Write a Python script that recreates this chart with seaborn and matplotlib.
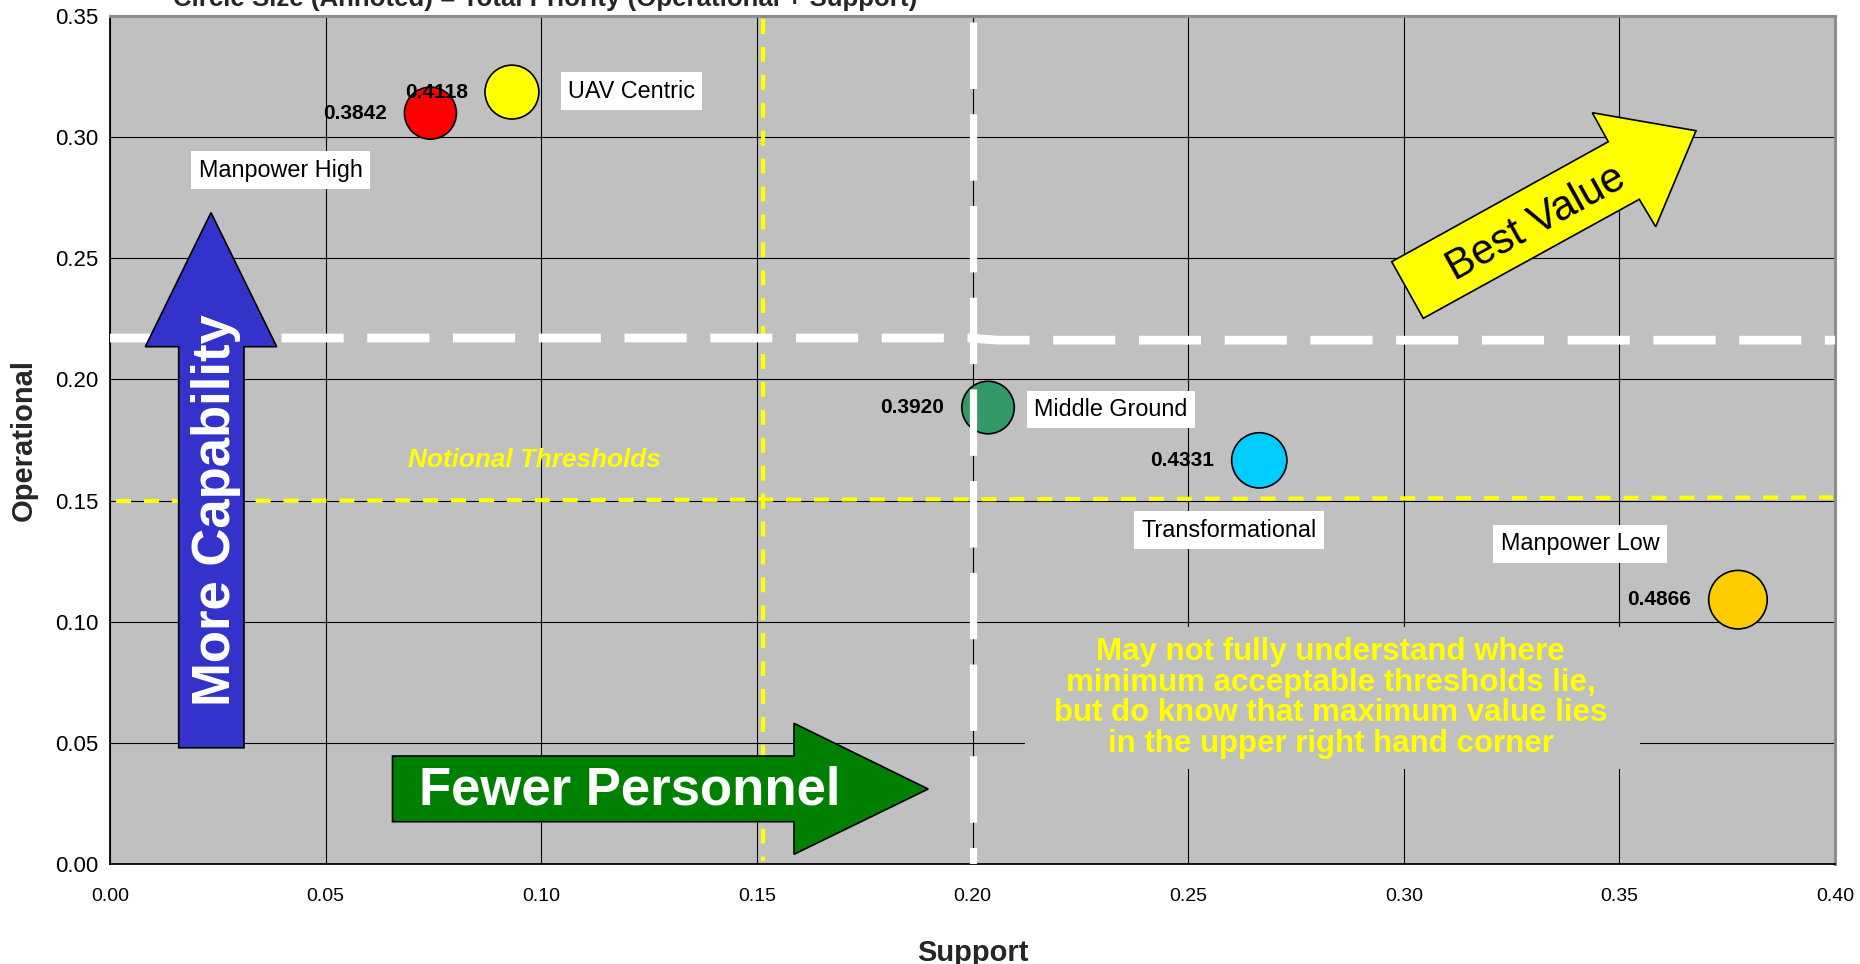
import matplotlib
matplotlib.use("Agg")
import matplotlib.pyplot as plt
import matplotlib.patches as mpatches
import numpy as np
import pandas as pd
import seaborn as sns

# ---- data -------------------------------------------------------------
alternatives = ["Manpower High", "UAV Centric", "Middle Ground",
                "Transformational", "Manpower Low"]
support = [0.0743, 0.0932, 0.2036, 0.2665, 0.3775]
operational = [0.3099, 0.3186, 0.1884, 0.1666, 0.1091]
total_priority = [0.3842, 0.4118, 0.3920, 0.4331, 0.4866]
bubble_colors = ["#FF0000", "#FFFF00", "#339966", "#00CCFF", "#FFCC00"]

x_ticks = [0.00, 0.05, 0.10, 0.15, 0.20, 0.25, 0.30, 0.35, 0.40]
y_ticks = [0.00, 0.05, 0.10, 0.15, 0.20, 0.25, 0.30, 0.35]

# where each alternative's name box sits (left edge of text, vertical centre)
name_anchor = [(0.0206, 0.2864), (0.1062, 0.3190), (0.2143, 0.1876),
               (0.2391, 0.1378), (0.3225, 0.1321)]

df = pd.DataFrame({"Alternative": alternatives, "Support": support,
                   "Operational": operational, "Total": total_priority})

# ---- style ------------------------------------------------------------
sns.set_style("white")
plt.rcParams["font.family"] = ["Liberation Sans", "DejaVu Sans"]

fig = plt.figure(figsize=(18.6, 9.64), dpi=100)
ax = fig.add_axes([110 / 1860, 1 - 864 / 964, 1725 / 1860, 848 / 964])
ax.set_facecolor("#C0C0C0")

ax.set_xlim(0, 0.40)
ax.set_ylim(0, 0.35)
ax.set_xticks(x_ticks)
ax.set_yticks(y_ticks)
ax.set_xticklabels([f"{v:.2f}" for v in x_ticks])
ax.set_yticklabels([f"{v:.2f}" for v in y_ticks])
ax.tick_params(axis="both", direction="out", length=3.6, width=1,
               color="black", labelcolor="black")
ax.tick_params(axis="x", pad=13.5, labelsize=14)
ax.tick_params(axis="y", pad=5.0, labelsize=16)
ax.grid(True, color="black", linewidth=0.8)
ax.set_axisbelow(True)

for side in ("left", "bottom"):
    ax.spines[side].set_color("black")
    ax.spines[side].set_linewidth(1.3)
for side in ("top", "right"):
    ax.spines[side].set_color("#8C8C8C")
    ax.spines[side].set_linewidth(2.2)

ax.set_xlabel("Support", fontsize=21, fontweight="bold", labelpad=25)
ax.set_ylabel("Operational", fontsize=21, fontweight="bold", labelpad=12)

# title sits mostly above the canvas edge
fig.text(545 / 1860, 1 - 6 / 964,
         "Circle Size (Annoted) = Total Priority (Operational + Support)",
         ha="center", va="baseline", fontsize=18.6, fontweight="bold")

# ---- bubbles ----------------------------------------------------------
sns.scatterplot(data=df, x="Support", y="Operational", hue="Alternative",
                palette=bubble_colors, size="Total", sizes=(0, 1825),
                size_norm=(0, 0.5), edgecolor="black", linewidth=1.2,
                legend=False, ax=ax, zorder=3)

for xs, ys, tot in zip(support, operational, total_priority):
    r_pt = np.sqrt(tot * 3650) / 2
    ax.annotate(f"{tot:.4f}", (xs, ys), xytext=(-(r_pt + 12.5), 0),
                textcoords="offset points", ha="right", va="center",
                fontsize=15, fontweight="bold", color="black", zorder=6)

for name, (lx, ly) in zip(alternatives, name_anchor):
    ax.text(lx, ly, name, ha="left", va="center", fontsize=16.8,
            color="black", zorder=6,
            bbox=dict(boxstyle="square,pad=0.32", facecolor="white",
                      edgecolor="none"))

# ---- notional threshold lines ----------------------------------------
ax.plot([0.1515, 0.1515], [0.3488, 0.0012], color="#FFFF00", lw=3.0,
        dashes=(3.6, 3.1), zorder=4, solid_capstyle="butt")
ax.plot([0.0014, 0.3995], [0.1498, 0.1513], color="#FFFF00", lw=3.0,
        dashes=(3.6, 3.1), zorder=4)
ax.text(0.0691, 0.1667, "Notional Thresholds", ha="left", va="center",
        fontsize=18.8, fontweight="bold", fontstyle="italic",
        color="#FFFF00", zorder=6)

ax.plot([0.2000, 0.2000], [0.3475, 0.0], color="white", lw=5.2,
        dashes=(9.2, 3.5), zorder=4)
ax.plot([0.0, 0.199, 0.206, 0.40], [0.2171, 0.2171, 0.2162, 0.2162],
        color="white", lw=6.3, dashes=(7.1, 2.7), zorder=4)

# ---- direction arrows -------------------------------------------------
blue_arrow = [(0.02342, 0.26885), (0.03866, 0.21351), (0.03107, 0.21351),
              (0.03107, 0.04796), (0.01593, 0.04796), (0.01593, 0.21351),
              (0.00819, 0.21351)]
ax.add_patch(mpatches.Polygon(blue_arrow, closed=True, facecolor="#3333CC",
                              edgecolor="black", lw=1.2, zorder=7))
ax.text(0.02458, 0.14627, "More Capability", rotation=90, ha="center",
        va="center", fontsize=38, fontweight="bold", color="white", zorder=8)

green_arrow = [(0.06551, 0.04457), (0.15861, 0.04457), (0.15861, 0.05807),
               (0.18973, 0.03095), (0.15861, 0.00400), (0.15861, 0.01746),
               (0.06551, 0.01746)]
ax.add_patch(mpatches.Polygon(green_arrow, closed=True, facecolor="#008000",
                              edgecolor="black", lw=1.2, zorder=7))
ax.text(0.12058, 0.03013, "Fewer Personnel", ha="center", va="center",
        fontsize=38, fontweight="bold", color="white", zorder=8)

yellow_arrow = [(0.29721, 0.24859), (0.34743, 0.29811), (0.34372, 0.31008),
                (0.36777, 0.30265), (0.35842, 0.26303), (0.35462, 0.27434),
                (0.30453, 0.22523)]
ax.add_patch(mpatches.Polygon(yellow_arrow, closed=True, facecolor="#FFFF00",
                              edgecolor="black", lw=1.2, zorder=7))
ax.text(0.33060, 0.26444, "Best Value", rotation=29, rotation_mode="anchor",
        ha="center", va="center", fontsize=30, color="black", zorder=8)

# ---- commentary box ---------------------------------------------------
ax.add_patch(mpatches.Rectangle((0.2122, 0.0392), 0.1426, 0.0586,
                                facecolor="#C0C0C0", edgecolor="none",
                                zorder=2))
ax.text(0.2831, 0.0685,
        "May not fully understand where\nminimum acceptable thresholds lie,\n"
        "but do know that maximum value lies\nin the upper right hand corner",
        ha="center", va="center", multialignment="center", fontsize=22.5,
        fontweight="bold", color="#FFFF00", linespacing=1.04, zorder=6)

fig.savefig("out.png", dpi=100)
